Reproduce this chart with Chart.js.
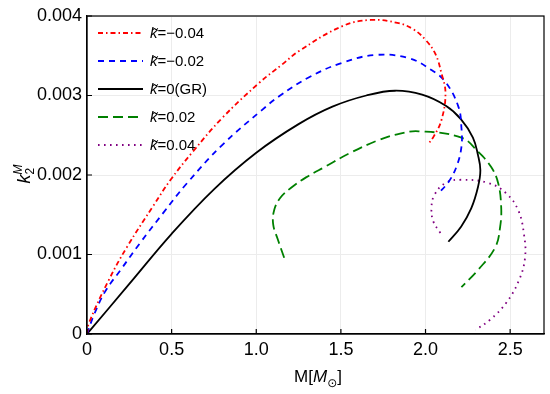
<!DOCTYPE html>
<html>
<head>
<meta charset="utf-8">
<script src="https://cdn.jsdelivr.net/npm/chart.js@4.4.1/dist/chart.umd.min.js"></script>
<style>
  html, body { margin: 0; padding: 0; background: #fff; }
  canvas { display: block; }
</style>
</head>
<body>
<canvas id="k2Chart" width="550" height="394"></canvas>
<script>
// tick labels
var xTicks = [0, 0.5, 1.0, 1.5, 2.0, 2.5];
var yTicks = [0, 0.001, 0.002, 0.003, 0.004];

// k-tilde values shown in the legend
var legendLabels = ['=\u22120.04', '=\u22120.02', '=0(GR)', '=0.02', '=0.04'];

// M [Msun] and k2^M, one pair of arrays per curve
var mNeg04 = [0, 0.012, 0.129, 0.235, 0.394, 0.494, 0.624, 0.80, 1.018, 1.153, 1.253, 1.506, 1.676, 1.841, 1.93, 2.00, 2.059, 2.094, 2.118, 2.094, 2.047, 2.012];
var kNeg04 = [0, 0.00014, 0.00068, 0.00109, 0.00162, 0.00194, 0.00229, 0.00272, 0.00316, 0.00339, 0.00356, 0.00387, 0.00395, 0.00391, 0.00383, 0.0037, 0.00352, 0.00328, 0.00303, 0.00269, 0.00248, 0.00238];

var mNeg02 = [0, 0.041, 0.106, 0.20, 0.312, 0.453, 0.588, 0.80, 1.035, 1.135, 1.312, 1.506, 1.706, 1.90, 2.035, 2.118, 2.194, 2.212, 2.212, 2.182, 2.135, 2.076];
var kNeg02 = [0, 0.00024, 0.00053, 0.00081, 0.00114, 0.00153, 0.00189, 0.00238, 0.00282, 0.00299, 0.00323, 0.00341, 0.00351, 0.00347, 0.00332, 0.00317, 0.00286, 0.0026, 0.00235, 0.0021, 0.00191, 0.00177];

var mGR = [0, 0.25, 0.50, 0.75, 1.0, 1.25, 1.45, 1.65, 1.82, 1.98, 2.12, 2.21, 2.28, 2.31, 2.324, 2.31, 2.27, 2.21, 2.135];
var kGR = [0, 0.00063, 0.00126, 0.00182, 0.00228, 0.00264, 0.00286, 0.003, 0.00306, 0.00301, 0.00287, 0.0027, 0.00247, 0.00225, 0.00206, 0.00185, 0.00158, 0.00135, 0.00116];

var mPos02 = [1.165, 1.129, 1.10, 1.106, 1.141, 1.206, 1.294, 1.412, 1.547, 1.724, 1.85, 1.959, 2.212, 2.312, 2.388, 2.429, 2.447, 2.441, 2.412, 2.312, 2.212];
var kPos02 = [0.00096, 0.00118, 0.00138, 0.00156, 0.00171, 0.00184, 0.00197, 0.00211, 0.00227, 0.00244, 0.00252, 0.00255, 0.00247, 0.00229, 0.0021, 0.0019, 0.0016, 0.00135, 0.00109, 0.00081, 0.00059];

var mPos04 = [2.088, 2.047, 2.035, 2.053, 2.118, 2.212, 2.371, 2.476, 2.547, 2.582, 2.588, 2.553, 2.476, 2.382, 2.294];
var kPos04 = [0.00127, 0.00141, 0.00158, 0.00175, 0.0019, 0.00194, 0.0019, 0.00177, 0.00156, 0.00125, 0.00096, 0.00068, 0.00039, 0.00018, 0.00005];

function pts(ms, ks) {
  return ms.map(function (m, i) { return { x: m, y: ks[i] }; });
}

var FONT = '"Liberation Sans", Arial, sans-serif';

function curve(ms, ks, color, dash) {
  return {
    data: pts(ms, ks),
    showLine: true,
    borderColor: color,
    backgroundColor: color,
    borderWidth: 1.8,
    borderDash: dash,
    pointRadius: 0,
    tension: 0.4,
    fill: false
  };
}

// frame, inward tick marks
var framePlugin = {
  id: 'frame',
  afterDraw: function (chart) {
    var ctx = chart.ctx, a = chart.chartArea;
    var xs = chart.scales.x, ys = chart.scales.y;
    ctx.save();
    ctx.strokeStyle = '#000';
    ctx.lineWidth = 1.2;
    ctx.setLineDash([]);
    ctx.strokeRect(a.left, a.top, a.right - a.left, a.bottom - a.top);
    ctx.beginPath();
    xTicks.forEach(function (v) {
      var px = xs.getPixelForValue(v);
      ctx.moveTo(px, a.bottom);
      ctx.lineTo(px, a.bottom - 5);
    });
    yTicks.forEach(function (v) {
      var py = ys.getPixelForValue(v);
      ctx.moveTo(a.left, py);
      ctx.lineTo(a.left + 5, py);
    });
    ctx.stroke();
    ctx.restore();
  }
};

// legend inside the plot, italic k with tilde
var legendPlugin = {
  id: 'kLegend',
  afterDatasetsDraw: function (chart) {
    var ctx = chart.ctx, a = chart.chartArea;
    ctx.save();
    chart.data.datasets.forEach(function (ds, i) {
      var y = a.top + 17 + 28 * i;
      ctx.strokeStyle = ds.borderColor;
      ctx.lineWidth = ds.borderWidth;
      ctx.setLineDash(ds.borderDash || []);
      ctx.beginPath();
      ctx.moveTo(a.left + 11, y);
      ctx.lineTo(a.left + 56, y);
      ctx.stroke();
      ctx.setLineDash([]);
      ctx.fillStyle = '#000';
      ctx.textBaseline = 'middle';
      ctx.font = 'italic 15px ' + FONT;
      var tx = a.left + 63;
      ctx.fillText('k\u0303', tx, y + 1);
      tx += ctx.measureText('k').width;
      ctx.font = '15px ' + FONT;
      ctx.fillText(legendLabels[i], tx, y + 1);
    });
    ctx.restore();
  }
};

// axis titles with sub/superscripts
var titlePlugin = {
  id: 'axisTitles',
  afterDraw: function (chart) {
    var ctx = chart.ctx;
    ctx.save();
    ctx.fillStyle = '#000';
    ctx.textBaseline = 'alphabetic';
    // x title: M[M_sun]
    var parts = [
      { t: 'M[', f: '17px ' + FONT, dy: 0 },
      { t: 'M', f: 'italic 17px ' + FONT, dy: 0 },
      { t: '\u2299', f: '12px "DejaVu Sans", ' + FONT, dy: 5 },
      { t: ']', f: '17px ' + FONT, dy: 0 }
    ];
    var w = 0;
    parts.forEach(function (p) { ctx.font = p.f; p.w = ctx.measureText(p.t).width; w += p.w; });
    var x = 318 - w / 2, base = 382;
    parts.forEach(function (p) { ctx.font = p.f; ctx.fillText(p.t, x, base + p.dy); x += p.w; });

    // y title: k_2^M, rotated
    ctx.translate(30, 174);
    ctx.rotate(-Math.PI / 2);
    ctx.font = 'italic 18px ' + FONT;
    var kw = ctx.measureText('k').width;
    ctx.font = 'italic 12px ' + FONT;
    var mw = ctx.measureText('M').width;
    var sx = -(kw + mw) / 2;
    ctx.font = 'italic 18px ' + FONT;
    ctx.fillText('k', sx, 0);
    ctx.font = '12px ' + FONT;
    ctx.fillText('2', sx + kw, 4);
    ctx.font = 'italic 12px ' + FONT;
    ctx.fillText('M', sx + kw, -8);
    ctx.restore();
  }
};

var ctxK = document.getElementById('k2Chart').getContext('2d');
var k2Chart = new Chart(ctxK, {
  type: 'scatter',
  data: {
    datasets: [
      curve(mNeg04, kNeg04, '#ff0000', [5, 3, 1.5, 3]),
      curve(mNeg02, kNeg02, '#0000ff', [6, 5]),
      curve(mGR, kGR, '#000000', []),
      curve(mPos02, kPos02, '#008000', [10, 5]),
      curve(mPos04, kPos04, '#800080', [1.6, 4.4])
    ]
  },
  options: {
    responsive: false,
    animation: false,
    devicePixelRatio: 1,
    layout: { padding: { top: 16, right: 6, left: 0, bottom: 0 } },
    plugins: {
      legend: { display: false },
      tooltip: { enabled: false }
    },
    scales: {
      x: {
        type: 'linear',
        min: 0,
        max: 2.7,
        afterBuildTicks: function (s) { s.ticks = xTicks.map(function (v) { return { value: v }; }); },
        afterFit: function (s) { s.height = 60; },
        ticks: {
          color: '#000',
          font: { family: FONT, size: 18 },
          padding: 5,
          maxRotation: 0,
          callback: function (v) { return v === 0 ? '0' : v.toFixed(1); }
        },
        grid: { color: '#ececec', lineWidth: 1, drawTicks: false },
        border: { display: true, color: '#000', width: 1.2 }
      },
      y: {
        type: 'linear',
        min: 0,
        max: 0.004,
        afterBuildTicks: function (s) { s.ticks = yTicks.map(function (v) { return { value: v }; }); },
        afterFit: function (s) { s.width = 87; },
        ticks: {
          color: '#000',
          font: { family: FONT, size: 18 },
          padding: 5,
          callback: function (v) { return v === 0 ? '0' : v.toFixed(3); }
        },
        grid: { color: '#ececec', lineWidth: 1, drawTicks: false },
        border: { display: true, color: '#000', width: 1.2 }
      }
    }
  },
  plugins: [framePlugin, legendPlugin, titlePlugin]
});
</script>
</body>
</html>
